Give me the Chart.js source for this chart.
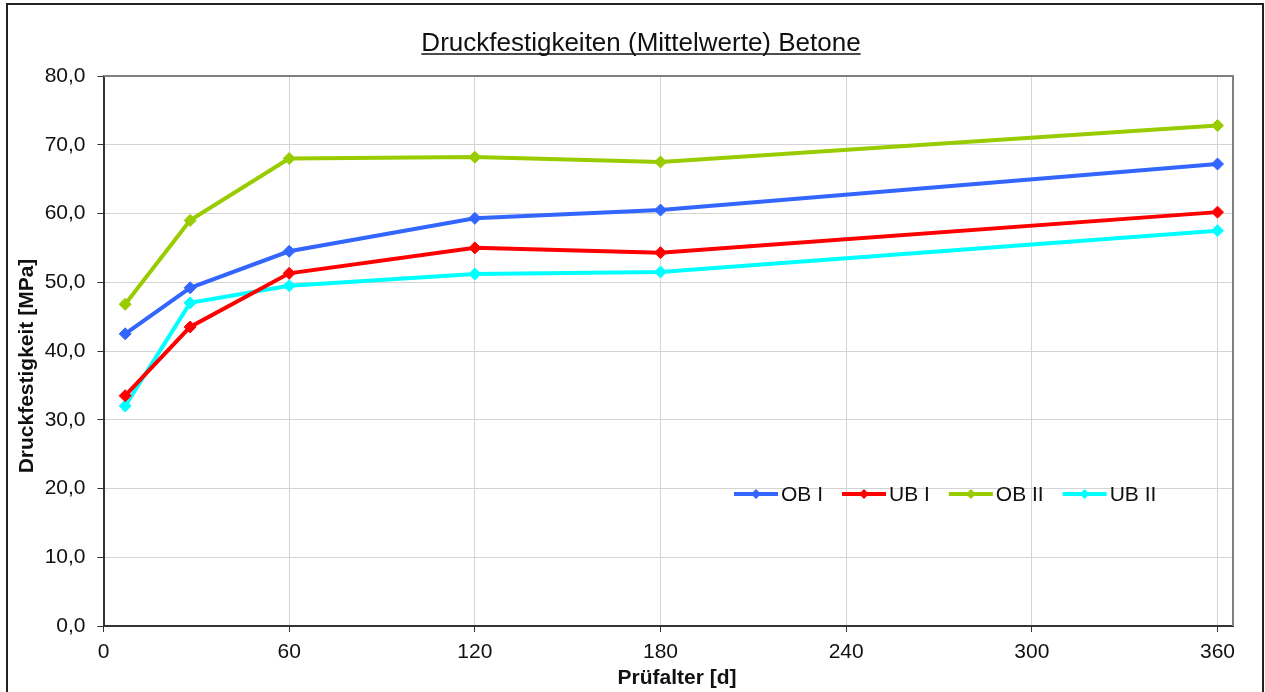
<!DOCTYPE html>
<html>
<head>
<meta charset="utf-8">
<script src="https://cdn.jsdelivr.net/npm/chart.js@4"></script>
<style>
  html, body { margin: 0; padding: 0; background: #fff; }
</style>
</head>
<body>
<canvas id="myChart" width="1265" height="692"></canvas>
<script>
// values
const ages = [7, 28, 60, 120, 180, 360];
const obI = [42.5, 49.2, 54.5, 59.3, 60.5, 67.2];
const ubI = [33.5, 43.5, 51.3, 55.0, 54.3, 60.2];
const obII = [46.8, 59.0, 68.0, 68.2, 67.5, 72.8];
const ubII = [32.0, 47.0, 49.5, 51.2, 51.5, 57.5];
const seriesNames = ['OB I', 'UB I', 'OB II', 'UB II'];
const seriesColors = ['#3366ff', '#ff0000', '#99cc00', '#00ffff'];
const chartTitle = 'Druckfestigkeiten (Mittelwerte) Betone';
const xTitle = 'Prüfalter [d]';
const yTitle = 'Druckfestigkeit [MPa]';

const FONT = '"Liberation Sans", Arial, sans-serif';

const series = [obI, ubI, obII, ubII];
const datasets = series.map((vals, i) => ({
  label: seriesNames[i],
  data: vals.map((v, k) => ({ x: ages[k], y: v })),
  borderColor: seriesColors[i],
  backgroundColor: seriesColors[i],
  pointBackgroundColor: seriesColors[i],
  pointBorderColor: seriesColors[i],
  borderWidth: 4,
  pointStyle: 'rectRot',
  pointRadius: 6,
  pointBorderWidth: 1,
  tension: 0
}));

// frame, titles and plot border
const frame = {
  id: 'frame',
  beforeDraw(chart) {
    const ctx = chart.ctx;
    ctx.save();
    ctx.fillStyle = '#fff';
    ctx.fillRect(0, 0, chart.width, chart.height);
    ctx.restore();
  },
  beforeDatasetsDraw(chart) {
    const { ctx, chartArea: a } = chart;
    ctx.save();
    ctx.strokeStyle = '#808080';
    ctx.lineWidth = 2;
    ctx.beginPath();
    ctx.moveTo(a.left, a.top);
    ctx.lineTo(a.right, a.top);
    ctx.lineTo(a.right, a.bottom);
    ctx.stroke();
    ctx.restore();
  },
  afterDraw(chart) {
    const ctx = chart.ctx;
    ctx.save();
    ctx.strokeStyle = '#222';
    ctx.lineWidth = 2;
    ctx.strokeRect(7, 4, 1256, 700);
    // title, underlined
    ctx.font = '26px ' + FONT;
    ctx.fillStyle = '#111';
    ctx.textAlign = 'center';
    ctx.textBaseline = 'alphabetic';
    const cx = 641;
    ctx.fillText(chartTitle, cx, 51);
    const w = ctx.measureText(chartTitle).width;
    ctx.strokeStyle = '#111';
    ctx.lineWidth = 1.5;
    ctx.beginPath();
    ctx.moveTo(cx - w / 2, 54);
    ctx.lineTo(cx + w / 2, 54);
    ctx.stroke();
    // axis titles
    ctx.font = 'bold 21px ' + FONT;
    ctx.textBaseline = 'middle';
    ctx.fillText(xTitle, 677, 678);
    ctx.translate(27, 366);
    ctx.rotate(-Math.PI / 2);
    ctx.fillText(yTitle, 0, 0);
    ctx.restore();
  }
};

// legend inside the plot, line + diamond marker
const innerLegend = {
  id: 'innerLegend',
  afterDatasetsDraw(chart) {
    const ctx = chart.ctx;
    let x = 734;
    const y = 494;
    ctx.save();
    ctx.font = '21px ' + FONT;
    ctx.textBaseline = 'middle';
    ctx.textAlign = 'left';
    chart.data.datasets.forEach(ds => {
      ctx.strokeStyle = ds.borderColor;
      ctx.lineWidth = 4;
      ctx.beginPath();
      ctx.moveTo(x, y);
      ctx.lineTo(x + 44, y);
      ctx.stroke();
      ctx.fillStyle = ds.borderColor;
      ctx.beginPath();
      ctx.moveTo(x + 22, y - 5);
      ctx.lineTo(x + 27, y);
      ctx.lineTo(x + 22, y + 5);
      ctx.lineTo(x + 17, y);
      ctx.closePath();
      ctx.fill();
      ctx.fillStyle = '#111';
      ctx.fillText(ds.label, x + 47, y + 1);
      x += 47 + ctx.measureText(ds.label).width + 19;
    });
    ctx.restore();
  }
};

const ctx = document.getElementById('myChart').getContext('2d');
const myChart = new Chart(ctx, {
  type: 'line',
  data: { datasets: datasets },
  plugins: [frame, innerLegend],
  options: {
    responsive: false,
    animation: false,
    layout: { padding: { left: 12, right: 32, top: 76, bottom: 0 } },
    plugins: {
      legend: { display: false },
      title: { display: false },
      tooltip: { enabled: false }
    },
    scales: {
      x: {
        type: 'linear',
        min: 0,
        max: 365,
        afterFit: s => { s.height = 66; },
        ticks: {
          stepSize: 60,
          includeBounds: false,
          color: '#111',
          padding: 8,
          font: { family: FONT, size: 21 }
        },
        grid: { color: '#d4d4d4', lineWidth: 1, tickColor: '#333', tickLength: 6 },
        border: { color: '#333', width: 2 }
      },
      y: {
        min: 0,
        max: 80,
        afterFit: s => { s.width = 91.5; },
        ticks: {
          stepSize: 10,
          color: '#111',
          padding: 12,
          font: { family: FONT, size: 21 },
          callback: v => v.toFixed(1).replace('.', ',')
        },
        grid: { color: '#d4d4d4', lineWidth: 1, tickColor: '#333', tickLength: 6 },
        border: { color: '#333', width: 2 }
      }
    }
  }
});
</script>
</body>
</html>
